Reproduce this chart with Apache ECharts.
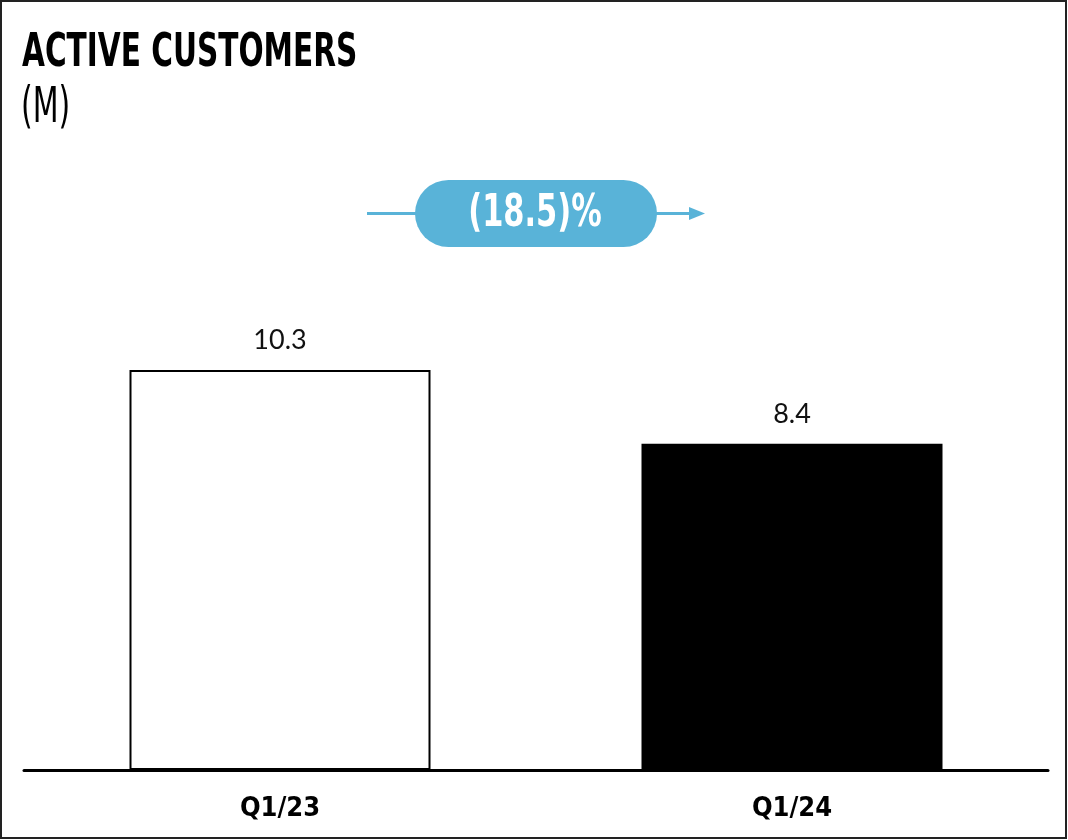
<!DOCTYPE html>
<html>
<head>
<meta charset="utf-8">
<script src="https://cdn.jsdelivr.net/npm/echarts@6/dist/echarts.min.js"></script>
<style>
html,body{margin:0;padding:0;background:#fff;}
#chart{width:1068px;height:840px;}
</style>
</head>
<body>
<div id="chart"></div>
<script>
var categories = ['Q1/23', 'Q1/24'];
var values = [10.3, 8.4];
var changeLabel = '(18.5)%';
var titleText = 'ACTIVE CUSTOMERS';
var unitText = '(M)';

var condensed = '"DejaVu Sans Condensed", "DejaVu Sans", sans-serif';
var blue = '#59B3D8';

var chart = echarts.init(document.getElementById('chart'), null, {renderer: 'canvas'});
chart.setOption({
  animation: false,
  backgroundColor: '#fff',
  grid: {left: 24, right: 20, top: 304, bottom: 70, containLabel: false},
  xAxis: {
    type: 'category',
    data: categories,
    axisLine: {show: true, lineStyle: {color: '#000', width: 3}},
    axisTick: {show: false},
    axisLabel: {
      margin: 25,
      color: '#000',
      fontFamily: condensed,
      fontWeight: 'bold',
      fontSize: 27
    }
  },
  yAxis: {
    type: 'value',
    min: 0,
    max: 12,
    show: false,
    splitLine: {show: false}
  },
  series: [{
    type: 'bar',
    barWidth: 301,
    data: [
      {value: values[0], itemStyle: {color: '#fff', borderColor: '#000', borderWidth: 2}},
      {value: values[1], itemStyle: {color: '#000', borderColor: '#000', borderWidth: 0}}
    ],
    label: {
      show: true,
      position: 'top',
      distance: 16,
      color: '#111',
      fontFamily: 'Lato, "Open Sans", sans-serif',
      fontSize: 27,
      formatter: function (p) { return p.value.toFixed(1); }
    }
  }],
  graphic: [
    {type: 'rect', shape: {x: 1, y: 1, width: 1065, height: 837}, style: {fill: 'none', stroke: '#222', lineWidth: 2}, silent: true},
    {type: 'text', x: 22, y: 31, scaleX: 0.715, style: {x: 0, y: 0, text: titleText, font: 'bold 46px ' + condensed, fill: '#000'}},
    {type: 'text', x: 21, y: 85, scaleX: 0.68, style: {x: 0, y: 0, text: unitText, font: 'normal 49px ' + condensed, fill: '#000'}},
    {type: 'line', shape: {x1: 367, y1: 213.5, x2: 420, y2: 213.5}, style: {stroke: blue, lineWidth: 3}},
    {type: 'line', shape: {x1: 652, y1: 213.5, x2: 692, y2: 213.5}, style: {stroke: blue, lineWidth: 3}},
    {type: 'polygon', shape: {points: [[689, 207], [705, 213.5], [689, 220]]}, style: {fill: blue}},
    {type: 'rect', shape: {x: 415, y: 180, width: 242, height: 67, r: 33.5}, style: {fill: blue}},
    {type: 'text', x: 535, y: 215, scaleX: 0.77, style: {x: 0, y: 0, text: changeLabel, font: 'bold 44px ' + condensed, fill: '#fff', align: 'center', verticalAlign: 'middle'}}
  ]
});
</script>
</body>
</html>
